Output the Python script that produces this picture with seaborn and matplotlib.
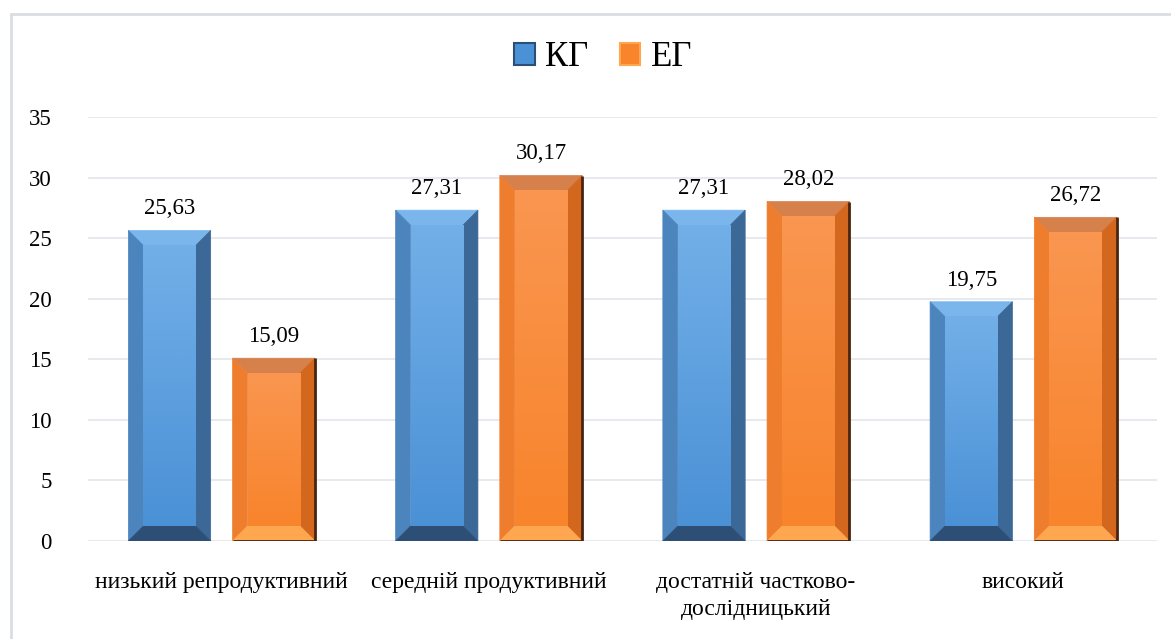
import numpy as np
import pandas as pd
import matplotlib
matplotlib.use('Agg')
import matplotlib.pyplot as plt
import seaborn as sns
from matplotlib.patches import Polygon, Patch
from matplotlib.lines import Line2D
from matplotlib.colors import LinearSegmentedColormap

# ---- data ----
categories = ['низький репродуктивний', 'середній продуктивний',
              'достатній частково-\nдослідницький', 'високий']
groups = ['КГ', 'ЕГ']
kg_values = [25.63, 27.31, 27.31, 19.75]
eg_values = [15.09, 30.17, 28.02, 26.72]
y_ticks = [0, 5, 10, 15, 20, 25, 30, 35]

df = pd.DataFrame({
    'category': categories * 2,
    'group': [groups[0]] * 4 + [groups[1]] * 4,
    'value': kg_values + eg_values,
})

# ---- style ----
sns.set_style('white')
plt.rcParams['font.family'] = ['Liberation Serif', 'DejaVu Serif']
plt.rcParams['text.color'] = 'black'
plt.rcParams['xtick.color'] = 'black'
plt.rcParams['ytick.color'] = 'black'

# bevel colours: face top, face bottom, top, left, right, bottom, edge
bevel_colors = {
    'КГ': ('#72afe8', '#4b91d6', '#7ab6ec', '#4c84be', '#3b6896', '#2d4f76', None),
    'ЕГ': ('#fa9650', '#f8842c', '#d6804c', '#ee7d2e', '#d4671e', '#ffa650', '#4a2410'),
}
palette = {'КГ': '#5b9bd5', 'ЕГ': '#f5873a'}

fig = plt.figure(figsize=(11.71, 6.39), dpi=100)
ax = fig.add_axes([88 / 1171, 1 - 541 / 639, (1157 - 88) / 1171, (541 - 117) / 639])

sns.barplot(data=df, x='category', y='value', hue='group', hue_order=groups,
            palette=palette, width=0.78, gap=0.21, legend=False, ax=ax,
            saturation=1, zorder=2)

ax.set_ylim(0, 35)
ax.set_xlim(-0.5, 3.5)
ax.set_yticks(y_ticks)
ax.set_yticklabels([str(t) for t in y_ticks], fontsize=16.5)
ax.yaxis.grid(True, color='#e1e5eb', linewidth=1.2, zorder=0)
ax.set_axisbelow(True)
for s in ax.spines.values():
    s.set_visible(False)
ax.tick_params(axis='both', length=0)
ax.tick_params(axis='y', pad=26)
ax.tick_params(axis='x', pad=22)
ax.set_xticks(range(len(categories)))
ax.set_xticklabels(categories, fontsize=17, linespacing=1.4)
ax.set_xlabel('')
ax.set_ylabel('')

# ---- bevelled bars ----
bev_px = 15
px_per_x = ax.bbox.width / 4.0
px_per_y = ax.bbox.height / 35.0
bx = bev_px / px_per_x
by = bev_px / px_per_y

bars = list(ax.patches)
for i, p in enumerate(bars):
    g = groups[i // len(categories)]
    ftop, fbot, ctop, cleft, cright, cbot, cedge = bevel_colors[g]
    x0, y0 = p.get_x(), p.get_y()
    x1, y1 = x0 + p.get_width(), y0 + p.get_height()
    p.set_visible(False)
    polys = [
        ([(x0, y1), (x1, y1), (x1 - bx, y1 - by), (x0 + bx, y1 - by)], ctop),
        ([(x0, y0), (x0, y1), (x0 + bx, y1 - by), (x0 + bx, y0 + by)], cleft),
        ([(x1, y0), (x1, y1), (x1 - bx, y1 - by), (x1 - bx, y0 + by)], cright),
        ([(x0, y0), (x1, y0), (x1 - bx, y0 + by), (x0 + bx, y0 + by)], cbot),
    ]
    for pts, c in polys:
        ax.add_patch(Polygon(pts, closed=True, facecolor=c, edgecolor=c, lw=0.5, zorder=3))
    cmap = LinearSegmentedColormap.from_list('f', [fbot, ftop])
    grad = np.linspace(0, 1, 64).reshape(-1, 1)
    ax.imshow(grad, extent=(x0 + bx, x1 - bx, y0 + by, y1 - by), origin='lower',
              cmap=cmap, aspect='auto', zorder=3.5, interpolation='bicubic')
    if cedge:
        ax.plot([x1, x1, x0], [y1, y0, y0], color=cedge, lw=2, zorder=4,
                solid_capstyle='butt')
    val = p.get_height()
    ax.annotate(f'{val:.2f}'.replace('.', ','), (x0 + p.get_width() / 2, y1),
                xytext=(0, 8), textcoords='offset points', ha='center',
                va='bottom', fontsize=16.5, zorder=5)

ax.set_xlim(-0.5, 3.5)
ax.set_ylim(0, 35)

# ---- legend ----
handles = [Patch(facecolor=bevel_colors[g][1], edgecolor=bevel_colors[g][5], lw=1.5)
           for g in groups]
fig.legend(handles, groups, loc='center', bbox_to_anchor=(603 / 1171, 1 - 58 / 639),
           ncol=2, frameon=False, fontsize=25, handlelength=0.6, handleheight=0.6,
           handletextpad=0.3, columnspacing=0.9)

# ---- outer frame ----
fig.add_artist(Line2D([11 / 1171, 1], [1 - 14 / 639] * 2, transform=fig.transFigure,
                      color='#d9dde3', lw=2))
fig.add_artist(Line2D([11 / 1171] * 2, [0, 1 - 14 / 639], transform=fig.transFigure,
                      color='#d9dde3', lw=2))

fig.savefig('out.png', dpi=100, facecolor='white')
